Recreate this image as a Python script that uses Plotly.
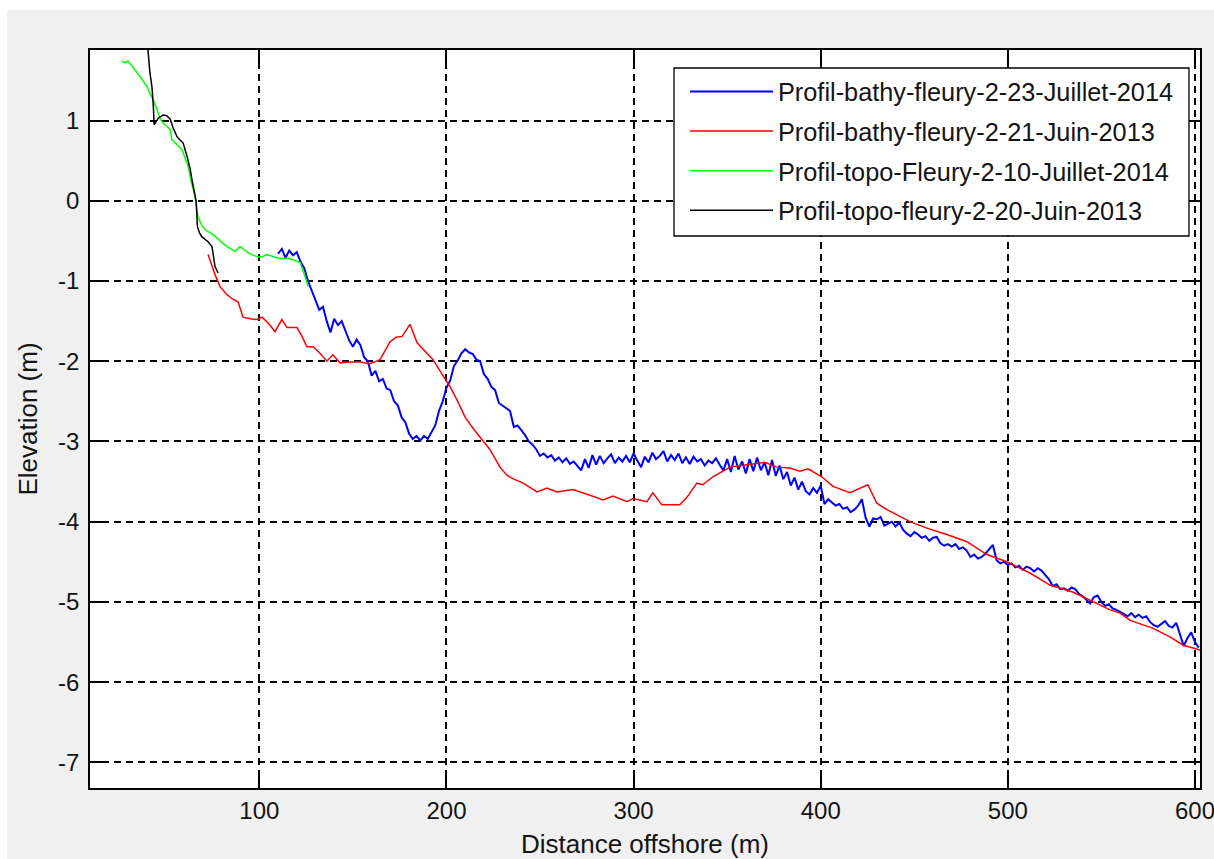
import plotly.graph_objects as go

# ---------------- data ----------------
blue_name = "Profil-bathy-fleury-2-23-Juillet-2014"
red_name = "Profil-bathy-fleury-2-21-Juin-2013"
green_name = "Profil-topo-Fleury-2-10-Juillet-2014"
black_name = "Profil-topo-fleury-2-20-Juin-2013"

blue_x = [
    110, 112, 114, 116, 118, 120, 122, 124, 126, 128,
    130, 132, 134, 136, 138, 140, 142, 144, 146, 148,
    150, 152, 154, 156, 158, 160, 162, 164, 166, 168,
    170, 172, 174, 176, 178, 180, 182, 184, 186, 188,
    190, 192, 194, 196, 198, 200, 202, 204, 206, 208,
    210, 212, 214, 216, 218, 220, 222, 224, 226, 228,
    230, 232, 234, 236, 238, 240, 242, 244, 246, 248,
    250, 252, 254, 256, 258, 260, 262, 264, 266, 268,
    270, 272, 274, 276, 278, 280, 282, 284, 286, 288,
    290, 292, 294, 296, 298, 300, 302, 304, 306, 308,
    310, 312, 314, 316, 318, 320, 322, 324, 326, 328,
    330, 332, 334, 336, 338, 340, 342, 344, 346, 348,
    350, 352, 354, 356, 358, 360, 362, 364, 366, 368,
    370, 372, 374, 376, 378, 380, 382, 384, 386, 388,
    390, 392, 394, 396, 398, 400, 402, 404, 406, 408,
    410, 412, 414, 416, 418, 420, 422, 424, 426, 428,
    430, 432, 434, 436, 438, 440, 442, 444, 446, 448,
    450, 452, 454, 456, 458, 460, 462, 464, 466, 468,
    470, 472, 474, 476, 478, 480, 482, 484, 486, 488,
    490, 492, 494, 496, 498, 500, 502, 504, 506, 508,
    510, 512, 514, 516, 518, 520, 522, 524, 526, 528,
    530, 532, 534, 536, 538, 540, 542, 544, 546, 548,
    550, 552, 554, 556, 558, 560, 562, 564, 566, 568,
    570, 572, 574, 576, 578, 580, 582, 584, 586, 588,
    590, 592, 594, 596, 598, 600, 602,
]
blue_y = [
    -0.66, -0.60, -0.71, -0.62, -0.68, -0.64, -0.76, -0.84, -1.00, -1.12,
    -1.25, -1.36, -1.32, -1.50, -1.64, -1.47, -1.55, -1.50, -1.62, -1.74,
    -1.82, -1.73, -1.80, -1.95, -2.00, -2.18, -2.12, -2.25, -2.22, -2.34,
    -2.36, -2.50, -2.55, -2.70, -2.76, -2.90, -2.97, -2.93, -2.99, -2.93,
    -2.97, -2.88, -2.80, -2.62, -2.50, -2.33, -2.24, -2.06, -1.99, -1.90,
    -1.85, -1.89, -1.91, -1.98, -2.00, -2.16, -2.22, -2.32, -2.36, -2.52,
    -2.55, -2.58, -2.62, -2.82, -2.80, -2.86, -2.92, -3.00, -3.04, -3.10,
    -3.18, -3.15, -3.20, -3.17, -3.24, -3.20, -3.26, -3.21, -3.28, -3.25,
    -3.31, -3.36, -3.22, -3.33, -3.17, -3.29, -3.18, -3.27, -3.21, -3.16,
    -3.27, -3.20, -3.25, -3.18, -3.26, -3.15, -3.24, -3.32, -3.19, -3.26,
    -3.14, -3.22, -3.18, -3.12, -3.25, -3.17, -3.23, -3.15, -3.27, -3.20,
    -3.28, -3.19, -3.25, -3.22, -3.30, -3.24, -3.27, -3.21, -3.29, -3.36,
    -3.22, -3.38, -3.18, -3.35, -3.25, -3.40, -3.22, -3.37, -3.20, -3.36,
    -3.26, -3.42, -3.23, -3.43, -3.30, -3.47, -3.38, -3.55, -3.45, -3.60,
    -3.50, -3.62, -3.66, -3.58, -3.64, -3.55, -3.78, -3.72, -3.76, -3.80,
    -3.78, -3.84, -3.82, -3.88, -3.85, -3.80, -3.72, -3.95, -4.06, -3.96,
    -3.97, -3.94, -4.05, -4.03, -4.00, -4.06, -4.01, -4.10, -4.15, -4.18,
    -4.13, -4.16, -4.20, -4.18, -4.24, -4.20, -4.19, -4.27, -4.30, -4.28,
    -4.31, -4.28, -4.34, -4.32, -4.36, -4.44, -4.41, -4.46, -4.44, -4.40,
    -4.34, -4.29, -4.48, -4.52, -4.50, -4.54, -4.52, -4.57, -4.55, -4.60,
    -4.56, -4.58, -4.62, -4.58, -4.61, -4.66, -4.72, -4.80, -4.78, -4.84,
    -4.83, -4.86, -4.82, -4.84, -4.90, -4.93, -4.98, -5.02, -4.94, -4.92,
    -5.00, -5.05, -5.03, -5.08, -5.10, -5.12, -5.15, -5.18, -5.14, -5.19,
    -5.16, -5.20, -5.18, -5.25, -5.29, -5.31, -5.27, -5.24, -5.30, -5.32,
    -5.26, -5.40, -5.55, -5.45, -5.38, -5.50, -5.57,
]

red_x = [
    72.6, 74.7, 76.3, 79.0, 82.7, 86.0, 88.6, 91.3, 95.0, 98.8,
    101.4, 104.6, 108.4, 112.0, 114.8, 120.1, 122.8, 125.4, 128.7, 132.4,
    136.1, 139.3, 143.1, 148.0, 153.8, 159.1, 164.5, 169.8, 173.0, 176.3,
    180.5, 184.3, 188.0, 192.8, 196.8, 200.0, 202.0, 206.0, 210.0, 215.0,
    219.6, 223.2, 228.6, 232.3, 236.0, 241.0, 248.4, 253.7, 259.0, 267.6,
    276.7, 283.7, 289.0, 296.5, 299.7, 307.1, 310.3, 315.1, 324.7, 328.4,
    333.8, 337.0, 342.4, 351.5, 360.5, 370.1, 376.5, 383.4, 388.9, 393.2,
    400.6, 406.5, 415.6, 425.2, 430.0, 435.4, 447.7, 456.8, 467.4, 478.1,
    488.8, 499.5, 511.8, 522.5, 535.0, 544.0, 554.7, 560.0, 565.4, 577.7,
    586.8, 593.8, 602.8,
]
red_y = [
    -0.67, -0.82, -0.92, -1.07, -1.17, -1.23, -1.26, -1.45, -1.47, -1.48,
    -1.45, -1.52, -1.63, -1.48, -1.58, -1.58, -1.69, -1.82, -1.82, -1.90,
    -2.00, -1.92, -2.02, -2.01, -2.01, -2.03, -1.98, -1.76, -1.70, -1.69,
    -1.54, -1.77, -1.86, -1.98, -2.13, -2.25, -2.32, -2.50, -2.70, -2.86,
    -3.00, -3.10, -3.32, -3.42, -3.47, -3.52, -3.63, -3.58, -3.63, -3.60,
    -3.67, -3.73, -3.68, -3.75, -3.71, -3.75, -3.64, -3.79, -3.79, -3.70,
    -3.52, -3.54, -3.44, -3.32, -3.29, -3.26, -3.32, -3.33, -3.37, -3.34,
    -3.44, -3.56, -3.64, -3.54, -3.77, -3.85, -4.00, -4.08, -4.16, -4.25,
    -4.41, -4.50, -4.64, -4.79, -4.88, -4.98, -5.10, -5.14, -5.23, -5.33,
    -5.44, -5.54, -5.60,
]

green_x = [
    26.6, 28.0, 29.8, 32.0, 36.2, 40.0, 42.6, 45.3, 47.0, 48.6,
    50.5, 52.3, 53.3, 56.0, 58.6, 60.5, 61.9, 63.8, 65.6, 67.2,
    69.0, 71.0, 75.3, 79.0, 82.7, 87.0, 89.7, 92.0, 94.0, 97.0,
    99.3, 102.0, 104.0, 108.0, 111.0, 116.4, 119.0, 121.8, 124.5, 126.1,
]
green_y = [
    1.74, 1.72, 1.74, 1.68, 1.55, 1.42, 1.29, 1.14, 1.02, 0.97,
    0.93, 0.89, 0.76, 0.70, 0.64, 0.52, 0.43, 0.22, 0.05, -0.20,
    -0.30, -0.36, -0.42, -0.50, -0.57, -0.63, -0.57, -0.61, -0.65, -0.68,
    -0.70, -0.69, -0.67, -0.70, -0.72, -0.72, -0.74, -0.77, -0.95, -1.07,
]

black_x = [
    40.0, 40.6, 41.5, 42.6, 43.3, 43.8, 46.0, 48.6, 50.5, 52.3,
    53.9, 56.0, 57.5, 59.3, 61.4, 63.0, 64.0, 66.2, 66.9, 68.0,
    69.4, 72.6, 74.7, 76.3, 78.0,
]
black_y = [
    2.20, 1.85, 1.60, 1.42, 1.20, 0.95, 1.03, 1.07, 1.06, 1.02,
    0.91, 0.80, 0.76, 0.72, 0.55, 0.40, 0.26, 0.00, -0.32, -0.40,
    -0.45, -0.51, -0.57, -0.82, -0.90,
]

x_range = [9.5, 602.7]
y_range = [-7.32, 1.88]
x_ticks = [100, 200, 300, 400, 500, 600]
y_ticks = [-7, -6, -5, -4, -3, -2, -1, 0, 1]

x_title = "Distance offshore (m)"
y_title = "Elevation (m)"

# ---------------- figure ----------------
FONT = "Liberation Sans, Arial, Helvetica, sans-serif"
TXT = "#141414"

fig = go.Figure()
series = [
    (blue_name, blue_x, blue_y, "#0000ff", 2.0),
    (red_name, red_x, red_y, "#ff0000", 1.5),
    (green_name, green_x, green_y, "#00ff00", 1.5),
    (black_name, black_x, black_y, "#000000", 1.5),
]
for i, (name, xs, ys, col, w) in enumerate(series):
    fig.add_trace(go.Scatter(
        x=xs, y=ys, mode="lines", name=name,
        line=dict(color=col, width=w),
        legendgroup="g%d" % i,
    ))

axis_common = dict(
    showline=True, linecolor="#000000", linewidth=1.5, mirror="ticks",
    ticks="inside", ticklen=15, tickwidth=1.5, tickcolor="#000000",
    showgrid=True, gridcolor="#000000", gridwidth=1.5, griddash="7px,5px",
    zeroline=False, ticklabeloverflow="allow", automargin=False,
    tickfont=dict(family=FONT, size=24, color=TXT),
)

fig.update_xaxes(
    range=x_range, tickvals=x_ticks, ticktext=[str(v) for v in x_ticks],
    ticklabelstandoff=0,
    title=dict(text=x_title, font=dict(family=FONT, size=26, color=TXT), standoff=12),
    **axis_common,
)
fig.update_yaxes(
    range=y_range, tickvals=y_ticks, ticktext=[str(v) for v in y_ticks],
    ticklabelstandoff=4,
    title=dict(text=y_title, font=dict(family=FONT, size=26, color=TXT), standoff=13),
    **axis_common,
)

W, H = 1214, 859
L, R, T, B = 90, 14, 50, 71
pw, ph = W - L - R, H - T - B

def px_x(v):
    return (v - L) / pw

def px_y(v):
    return (H - B - v) / ph

fig.update_layout(
    width=W, height=H,
    margin=dict(l=L, r=R, t=T, b=B, autoexpand=False),
    paper_bgcolor="#f0f0f0",
    plot_bgcolor="#ffffff",
    font=dict(family=FONT, color=TXT),
    showlegend=True,
    legend=dict(
        x=px_x(685), y=px_y(68.5), xanchor="left", yanchor="top",
        bgcolor="rgba(0,0,0,0)", borderwidth=0,
        font=dict(family=FONT, size=25.3, color=TXT),
        itemwidth=83, tracegroupgap=3.7,
    ),
    shapes=[
        # white strips along the top and left of the window
        dict(type="rect", xref="paper", yref="paper", layer="below",
             x0=px_x(0), x1=px_x(W), y0=px_y(10), y1=px_y(0),
             fillcolor="#ffffff", line=dict(width=0)),
        dict(type="rect", xref="paper", yref="paper", layer="below",
             x0=px_x(0), x1=px_x(7), y0=px_y(H), y1=px_y(0),
             fillcolor="#ffffff", line=dict(width=0)),
        # legend frame
        dict(type="rect", xref="paper", yref="paper", layer="above",
             x0=px_x(674), x1=px_x(1189), y0=px_y(236), y1=px_y(68),
             fillcolor="#ffffff", line=dict(color="#000000", width=1.3)),
    ],
)

fig.write_html(
    "out.html",
    config={"displayModeBar": False},
    post_script="document.body.style.margin='0px';"
                "document.body.style.padding='0px';"
                "document.body.style.overflow='hidden';",
)
